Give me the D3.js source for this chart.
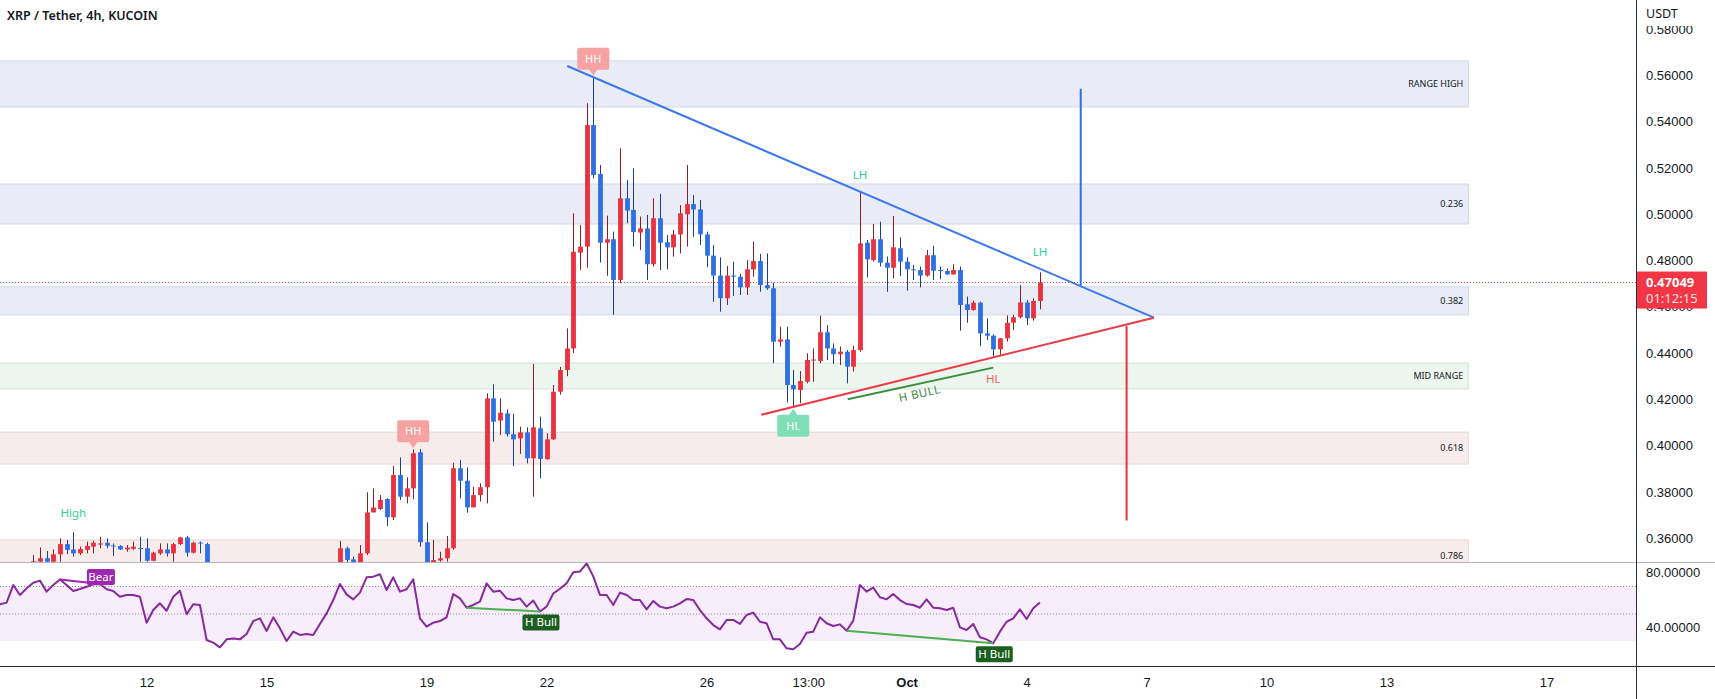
<!DOCTYPE html>
<html><head><meta charset="utf-8">
<script src="https://cdn.jsdelivr.net/npm/d3@7"></script>
<style>
body{margin:0;background:#fff;}
svg{display:block;font-family:"Noto Sans","Liberation Sans",sans-serif;}
</style>
</head><body>
<svg id="c" width="1715" height="699"></svg>
<script>
// ---------- DATA ----------
const title = "XRP / Tether, 4h, KUCOIN";
const firstBar = Date.UTC(2022, 8, 8, 8); // Sep 8 2022 08:00 UTC, 4h bars
const barMs = 4 * 3600 * 1000;

const open = [.3440,.3450,.3455,.3480,.3468,.3480,.3498,.3513,.3498,
.3530,.3574,.3551,.3534,.3549,.3563,.3572,.3580,.3568,.3566,
.3551,.3554,.3557,.3556,.3502,.3534,.3551,.3534,.3574,.3603,
.3537,.3581,.3574,.3470,.3440,.3405,.3415,.3418,.3412,.3425,
.3462,.3470,.3430,.3468,.3440,.3398,.3420,.3412,.3415,.3412,
.3440,.3462,.3490,.3556,.3508,.3494,.3534,.3711,.3726,.3769,
.3690,.3873,.3779,.3815,.3971,.3582,.3492,.3503,.3513,.3556,
.3902,.3848,.3733,.3786,.3820,.4204,.4108,.4139,.4049,.4031,
.4057,.3945,.4075,.3941,.4027,.4233,.4327,.4420,.4834,.4860,
.5386,.5174,.4877,.4892,.4716,.5069,.5019,.4921,.4939,.4784,
.4983,.4879,.4857,.4913,.5000,.5044,.5021,.4913,.4821,.4735,
.4637,.4735,.4730,.4684,.4762,.4798,.4694,.4680,.4449,.4459,
.4262,.4240,.4276,.4370,.4366,.4490,.4420,.4395,.4406,.4341,
.4413,.4877,.4802,.4892,.4791,.4769,.4853,.4795,.4762,.4759,
.4735,.4823,.4759,.4755,.4740,.4759,.4611,.4586,.4618,.4485,
.4475,.4416,.4464,.4531,.4555,.4619,.4550,.4625];

const high = [.3462,.3468,.3488,.3485,.3488,.3527,.3560,.3544,.3551,
.3599,.3592,.3625,.3563,.3585,.3589,.3606,.3599,.3577,.3570,
.3570,.3585,.3606,.3599,.3541,.3577,.3577,.3580,.3606,.3609,
.3585,.3585,.3580,.3482,.3448,.3428,.3430,.3425,.3438,.3475,
.3482,.3474,.3478,.3472,.3445,.3432,.3428,.3425,.3420,.3450,
.3472,.3494,.3588,.3563,.3520,.3570,.3798,.3815,.3786,.3772,
.3912,.3949,.3863,.3984,.3984,.3668,.3592,.3541,.3609,.3926,
.3938,.3906,.3822,.3837,.4226,.4265,.4204,.4157,.4137,.4082,
.4079,.4353,.4125,.4053,.4262,.4340,.4507,.5004,.4954,.5480,
.5595,.5213,.4994,.4925,.5285,.5148,.5199,.4990,.4997,.5069,
.5088,.4910,.4932,.5040,.5213,.5083,.5062,.4925,.4867,.4814,
.4776,.4795,.4742,.4802,.4882,.4828,.4831,.4704,.4514,.4514,
.4327,.4322,.4399,.4420,.4562,.4521,.4442,.4428,.4413,.4432,
.5098,.4889,.4958,.4968,.4817,.4993,.4900,.4814,.4781,.4774,
.4846,.4864,.4774,.4766,.4784,.4774,.4644,.4627,.4622,.4550,
.4481,.4464,.4563,.4565,.4694,.4629,.4637,.4749];

const low = [.3425,.3440,.3450,.3460,.3462,.3476,.3480,.3485,.3490,
.3498,.3531,.3520,.3527,.3534,.3534,.3556,.3556,.3523,.3549,
.3541,.3549,.3498,.3498,.3500,.3527,.3520,.3498,.3570,.3520,
.3534,.3534,.3450,.3425,.3395,.3398,.3405,.3400,.3408,.3420,
.3450,.3422,.3425,.3432,.3385,.3392,.3400,.3405,.3398,.3408,
.3435,.3455,.3470,.3490,.3480,.3485,.3527,.3711,.3722,.3652,
.3678,.3765,.3750,.3768,.3563,.3460,.3470,.3498,.3498,.3549,
.3772,.3710,.3733,.3758,.3750,.4017,.4046,.4039,.3912,.3964,
.3923,.3779,.3858,.3940,.4024,.4220,.4300,.4400,.4759,.4769,
.5155,.4791,.4734,.4565,.4702,.4961,.4860,.4846,.4716,.4774,
.4759,.4762,.4817,.4831,.4860,.4903,.4867,.4771,.4622,.4579,
.4608,.4647,.4651,.4651,.4730,.4665,.4673,.4356,.4428,.4186,
.4168,.4183,.4269,.4276,.4356,.4370,.4353,.4348,.4269,.4320,
.4406,.4727,.4795,.4774,.4665,.4723,.4733,.4670,.4716,.4684,
.4730,.4716,.4719,.4738,.4738,.4497,.4531,.4583,.4430,.4456,
.4384,.4392,.4450,.4500,.4550,.4521,.4540,.4589];

const close = [.3450,.3455,.3480,.3468,.3478,.3500,.3513,.3498,.3530,
.3574,.3549,.3534,.3553,.3566,.3580,.3577,.3567,.3566,.3551,
.3559,.3563,.3555,.3502,.3537,.3551,.3534,.3574,.3603,.3537,
.3580,.3579,.3470,.3440,.3405,.3415,.3418,.3412,.3425,.3462,
.3470,.3430,.3468,.3440,.3398,.3420,.3412,.3415,.3412,.3440,
.3462,.3490,.3556,.3505,.3494,.3534,.3711,.3732,.3765,.3690,
.3873,.3779,.3815,.3967,.3582,.3480,.3505,.3513,.3556,.3902,
.3848,.3733,.3786,.3820,.4204,.4103,.4142,.4049,.4027,.4057,
.3945,.4079,.3942,.4027,.4233,.4327,.4420,.4838,.4860,.5386,
.5170,.4877,.4892,.4716,.5069,.5016,.4923,.4939,.4784,.4983,
.4877,.4857,.4913,.5004,.5044,.5021,.4913,.4821,.4735,.4637,
.4735,.4730,.4684,.4762,.4798,.4694,.4680,.4449,.4459,.4262,
.4243,.4279,.4370,.4372,.4490,.4420,.4395,.4406,.4341,.4413,
.4874,.4805,.4892,.4791,.4769,.4857,.4795,.4762,.4759,.4735,
.4823,.4756,.4755,.4740,.4759,.4608,.4586,.4618,.4485,.4475,
.4416,.4464,.4531,.4555,.4619,.4550,.4625,.47049];

const rsi = [56.7,57.9,70.7,63.5,68.3,72.4,73.9,65.9,70.7,
74.8,70.7,66.4,67.8,69.5,71.2,71.5,67.6,66.4,62.2,
63.5,63.5,62.2,43.3,52.5,57.4,52.0,62.2,66.6,49.4,
56.7,56.2,30.7,28.8,25.4,31.2,31.9,31.2,35.1,44.5,
46.5,37.3,47.2,39.2,30.0,36.8,34.4,35.1,34.4,42.4,
50.1,59.8,71.5,63.9,60.3,65.2,76.3,76.8,78.5,67.1,
76.3,65.9,67.6,74.8,46.5,40.4,43.3,44.5,47.2,64.2,
61.0,54.2,56.2,58.6,71.9,65.9,66.6,61.0,59.8,61.0,
55.0,59.5,51.5,55.0,64.5,68.0,72.0,80.0,80.5,86.5,
77.0,63.5,63.5,56.2,65.2,63.5,59.8,59.8,53.0,59.1,
55.0,53.8,55.0,57.4,60.5,59.8,52.5,46.5,41.6,38.5,
45.3,45.3,42.4,48.9,50.6,44.0,42.9,31.2,31.2,24.7,
24.0,27.8,36.0,36.8,47.2,42.9,40.9,42.1,37.5,44.8,
70.7,65.9,68.8,61.8,60.3,64.2,59.8,56.9,56.2,54.2,
60.3,54.2,53.8,52.5,54.2,39.9,38.0,42.4,32.7,31.2,
28.3,36.8,44.0,46.5,53.0,46.0,53.8,58.0];

// fib / range zones
const zoneLabels = ["RANGE HIGH","0.236","0.382","MID RANGE","0.618","0.786"];
const zoneTop    = [0.5663,0.5131,0.4686,0.4357,0.4058,0.3592];
const zoneBottom = [0.5464,0.4958,0.4565,0.4245,0.3920,0.3453];
const zoneKind   = ["blue","blue","blue","green","red","red"];
const zoneEnd = Date.UTC(2022, 9, 15, 1);

// axis ticks
const priceTicks = [0.36,0.38,0.40,0.42,0.44,0.46,0.48,0.50,0.52,0.54,0.56,0.58];
const rsiTicks = [80, 40];
const timeTicks = [Date.UTC(2022,8,12),Date.UTC(2022,8,15),Date.UTC(2022,8,19),Date.UTC(2022,8,22),
  Date.UTC(2022,8,26),Date.UTC(2022,8,28,13),Date.UTC(2022,9,1),Date.UTC(2022,9,4),
  Date.UTC(2022,9,7),Date.UTC(2022,9,10),Date.UTC(2022,9,13),Date.UTC(2022,9,17)];
const timeTickLabels = ["12","15","19","22","26","13:00","Oct","4","7","10","13","17"];

// drawings (time, price)
const blueTrend = [[Date.UTC(2022,8,22,12,24),0.5641],[Date.UTC(2022,9,7,4,24),0.4553]];
const redTrend  = [[Date.UTC(2022,8,27,8,48),0.4133],[Date.UTC(2022,9,7,4,24),0.4553]];
const bullTrend = [[Date.UTC(2022,8,29,12,40),0.4200],[Date.UTC(2022,9,3,4,0),0.4337]];
const blueTarget = [[Date.UTC(2022,9,5,8,28),0.4692],[Date.UTC(2022,9,5,8,28),0.5543]];
const redTarget  = [[Date.UTC(2022,9,6,12,0),0.4517],[Date.UTC(2022,9,6,12,0),0.3676]];
// rsi divergences: [bar index from, bar index to, label]
const rsiDivs = [[9,15,"Bear"],[70,81,"H Bull"],[127,149,"H Bull"]];
const lastPrice = "0.47049", countdown = "01:12:15";

// ---------- LAYOUT ----------
const axisX = 1636, paneBottom = 562, rsiBottom = 666;
const svg = d3.select("#c");
const x = d3.scaleUtc().domain([Date.UTC(2022,8,12), Date.UTC(2022,9,17)]).range([146.6, 1546.6]);
const y = d3.scaleLinear().domain([0.56, 0.36]).range([75.5, 538.1]);
const yr = d3.scaleLinear().domain([70, 30]).range([586, 641]);

const bars = open.map((o,i)=>({t:firstBar+i*barMs,o,h:high[i],l:low[i],c:close[i],r:rsi[i]}));

const defs = svg.append("defs");
defs.append("clipPath").attr("id","pc").append("rect").attr("x",0).attr("y",0).attr("width",axisX).attr("height",paneBottom);
defs.append("clipPath").attr("id","rc").append("rect").attr("x",0).attr("y",paneBottom).attr("width",axisX).attr("height",rsiBottom-paneBottom);

const price = svg.append("g").attr("clip-path","url(#pc)");

// zones
const zoneFill = {blue:"#e9ecf6", green:"#edf5ef", red:"#f7ecec"};
const zoneStroke = {blue:"#d3d7e2", green:"#d6e3d8", red:"#e6d6d6"};
zoneLabels.forEach((lab,i)=>{
  const y0 = y(zoneTop[i]), y1 = y(zoneBottom[i]);
  price.append("rect").attr("x",-2).attr("y",y0).attr("width",x(zoneEnd)+2).attr("height",y1-y0)
    .attr("fill",zoneFill[zoneKind[i]]).attr("stroke",zoneStroke[zoneKind[i]]).attr("stroke-width",1);
  price.append("text").attr("x",x(zoneEnd)-5).attr("y",(y0+y1)/2).attr("dy","0.35em")
    .attr("text-anchor","end").attr("font-size",9).attr("fill","#131722").text(lab);
});

// last price dotted line
price.append("line").attr("x1",0).attr("x2",axisX).attr("y1",y(close[close.length-1])).attr("y2",y(close[close.length-1]))
  .attr("stroke","#f23645").attr("stroke-width",1).attr("stroke-dasharray","1,2");

// candles
const bw = (x(firstBar+barMs)-x(firstBar))*0.72;
const up = "#e8323f", dn = "#2f6fe4", upW = "#8e1d27", dnW = "#1c3f8c";
const cg = price.append("g");
cg.selectAll("line.w").data(bars).join("line").attr("class","w")
  .attr("x1",d=>Math.round(x(d.t))+0.5).attr("x2",d=>Math.round(x(d.t))+0.5)
  .attr("y1",d=>y(d.h)).attr("y2",d=>y(d.l))
  .attr("stroke",d=>d.c>=d.o?upW:dnW).attr("stroke-width",1);
cg.selectAll("rect.b").data(bars).join("rect").attr("class","b")
  .attr("x",d=>Math.round(x(d.t))+0.5-bw/2).attr("width",bw)
  .attr("y",d=>y(Math.max(d.o,d.c))).attr("height",d=>Math.max(1,Math.abs(y(d.o)-y(d.c))))
  .attr("fill",d=>d.c>=d.o?up:dn);

// trend lines
const pl = d3.line().x(d=>x(d[0])).y(d=>y(d[1]));
price.append("path").attr("d",pl(blueTrend)).attr("stroke","#3a78ee").attr("stroke-width",2).attr("fill","none");
price.append("path").attr("d",pl(redTrend)).attr("stroke","#ee3a48").attr("stroke-width",2).attr("fill","none");
price.append("path").attr("d",pl(bullTrend)).attr("stroke","#3b8e3f").attr("stroke-width",2).attr("fill","none");
price.append("path").attr("d",pl(blueTarget)).attr("stroke","#2f6fe4").attr("stroke-width",2).attr("fill","none");
price.append("path").attr("d",pl(redTarget)).attr("stroke","#e8323f").attr("stroke-width",2).attr("fill","none");

// H BULL text
const bx = (x(bullTrend[0][0])+x(bullTrend[1][0]))/2, byy = (y(bullTrend[0][1])+y(bullTrend[1][1]))/2;
const ang = Math.atan2(y(bullTrend[1][1])-y(bullTrend[0][1]), x(bullTrend[1][0])-x(bullTrend[0][0]))*180/Math.PI;
price.append("text").attr("transform",`translate(${bx},${byy+14}) rotate(${ang})`).attr("text-anchor","middle")
  .attr("font-size",11.5).attr("fill","#3b8e3f").attr("letter-spacing",0.5).text("H BULL");

// pivot labels
const barX = k => x(firstBar+(k-2)*barMs);
function markBox(k, yTip, dir, txt, fill){
  const cx = barX(k), w = 32, h = 22, p = 6;
  const g = price.append("g");
  let top;
  if(dir==="down"){ // box above, pointer down
    top = yTip - p - h;
    g.append("path").attr("d",`M${cx-w/2},${top+2}q0,-2 2,-2h${w-4}q2,0 2,2v${h-4}q0,2 -2,2h${-(w/2-6)}l-4,${p}l-4,${-p}h${-(w/2-6)}q-2,0 -2,-2z`).attr("fill",fill);
  } else {
    top = yTip + p;
    g.append("path").attr("d",`M${cx-w/2},${top+2}q0,-2 2,-2h${w/2-6}l4,${-p}l4,${p}h${w/2-6}q2,0 2,2v${h-4}q0,2 -2,2h${-(w-4)}q-2,0 -2,-2z`).attr("fill",fill);
  }
  g.append("text").attr("x",cx).attr("y",top+h/2).attr("dy","0.35em").attr("text-anchor","middle")
    .attr("font-size",11).attr("fill","#ffffff").text(txt);
}
markBox(91, y(high[89])-1, "down", "HH", "#f6a2a2");
markBox(64, y(high[62])-1, "down", "HH", "#f6a2a2");
markBox(121, y(low[119])+2, "up", "HL", "#7fdfb6");

function plainLabel(k, yy, txt, col){
  price.append("text").attr("x",barX(k)).attr("y",yy).attr("dy","0.35em").attr("text-anchor","middle")
    .attr("font-size",11.5).attr("fill",col).text(txt);
}
plainLabel(131, y(high[129])-17, "LH", "#2dd293");
plainLabel(158, y(high[156])-20, "LH", "#2dd293");
plainLabel(13, y(high[11])-19, "High", "#2dd293");
plainLabel(151, y(low[149])+22, "HL", "#ef6461");

// ---------- RSI pane ----------
const rg = svg.append("g").attr("clip-path","url(#rc)");
rg.append("rect").attr("x",0).attr("width",axisX).attr("y",yr(70)).attr("height",yr(30)-yr(70)).attr("fill","#f8edfb");
[70,50].forEach(v=>rg.append("line").attr("x1",0).attr("x2",axisX).attr("y1",yr(v)+0.5).attr("y2",yr(v)+0.5)
  .attr("stroke","#8a8d96").attr("stroke-dasharray","1,2"));
rg.append("path").datum(bars).attr("d",d3.line().x(d=>x(d.t)).y(d=>yr(d.r)))
  .attr("fill","none").attr("stroke","#862a9c").attr("stroke-width",2).attr("stroke-linejoin","round");
rsiDivs.forEach(([a,b,lab])=>{
  const bear = lab==="Bear";
  const col = bear ? "#9c27b0" : "#4caf50";
  const x0 = x(bars[a].t), x1 = x(bars[b].t), y0 = yr(bars[a].r), y1 = yr(bars[b].r);
  rg.append("line").attr("x1",x0).attr("y1",y0).attr("x2",x1).attr("y2",y1).attr("stroke",col).attr("stroke-width",2);
  const w = bear?28:37, h = 16;
  const top = bear ? y1 - h + 1 : y1 + 3;
  const cx = x1 + 1;
  rg.append("rect").attr("x",cx-w/2).attr("y",top).attr("width",w).attr("height",h).attr("rx",2)
    .attr("fill", bear ? "#9c27b0" : "#1b5e20");
  rg.append("text").attr("x",cx).attr("y",top+h/2).attr("dy","0.35em").attr("text-anchor","middle")
    .attr("font-size",11.5).attr("fill","#fff").text(lab);
});

// ---------- frames ----------
svg.append("line").attr("x1",0).attr("x2",1715).attr("y1",paneBottom+0.5).attr("y2",paneBottom+0.5).attr("stroke","#b2b5be");
svg.append("line").attr("x1",0).attr("x2",1715).attr("y1",rsiBottom+0.5).attr("y2",rsiBottom+0.5).attr("stroke","#2a2e39");
svg.append("line").attr("x1",axisX+0.5).attr("x2",axisX+0.5).attr("y1",0).attr("y2",699).attr("stroke","#2a2e39");

// price axis
const pa = svg.append("g").attr("transform",`translate(${axisX},0)`)
  .call(d3.axisRight(y).tickValues(priceTicks).tickFormat(d3.format(".5f")).tickSize(0).tickPadding(10));
pa.select(".domain").remove();
pa.selectAll("text").attr("font-size",13).attr("fill","#131722");
// header cover + USDT
svg.append("rect").attr("x",axisX+1).attr("y",0).attr("width",1715-axisX).attr("height",26).attr("fill","#fff");
svg.append("text").attr("x",axisX+10).attr("y",14).attr("dy","0.35em").attr("font-size",12.5).attr("fill","#131722").text("USDT");

// rsi axis
const ra = svg.append("g").attr("transform",`translate(${axisX},0)`)
  .call(d3.axisRight(yr).tickValues(rsiTicks).tickFormat(d3.format(".5f")).tickSize(0).tickPadding(10));
ra.select(".domain").remove();
ra.selectAll("text").attr("font-size",13).attr("fill","#131722");

// last price box
const ly = y(close[close.length-1]);
svg.append("rect").attr("x",axisX+1).attr("y",ly-11).attr("width",70).attr("height",37).attr("fill","#f23645");
svg.append("text").attr("x",axisX+10).attr("y",ly).attr("dy","0.35em").attr("font-size",13).attr("font-weight",700).attr("fill","#fff").text(lastPrice);
svg.append("text").attr("x",axisX+10).attr("y",ly+16).attr("dy","0.35em").attr("font-size",13).attr("fill","#fde3e5").text(countdown);

// time axis
const ta = svg.append("g").attr("transform",`translate(0,${rsiBottom})`)
  .call(d3.axisBottom(x).tickValues(timeTicks).tickFormat((d,i)=>timeTickLabels[i]).tickSize(0).tickPadding(12));
ta.select(".domain").remove();
ta.selectAll("text").attr("font-size",13).attr("fill","#131722")
  .attr("font-weight",(d,i)=>timeTickLabels[i]==="Oct"?700:400);

// title
svg.append("text").attr("x",7).attr("y",16).attr("dy","0.35em").attr("font-size",12.5).attr("font-weight",600)
  .attr("fill","#131722").text(title);
</script>
</body></html>
